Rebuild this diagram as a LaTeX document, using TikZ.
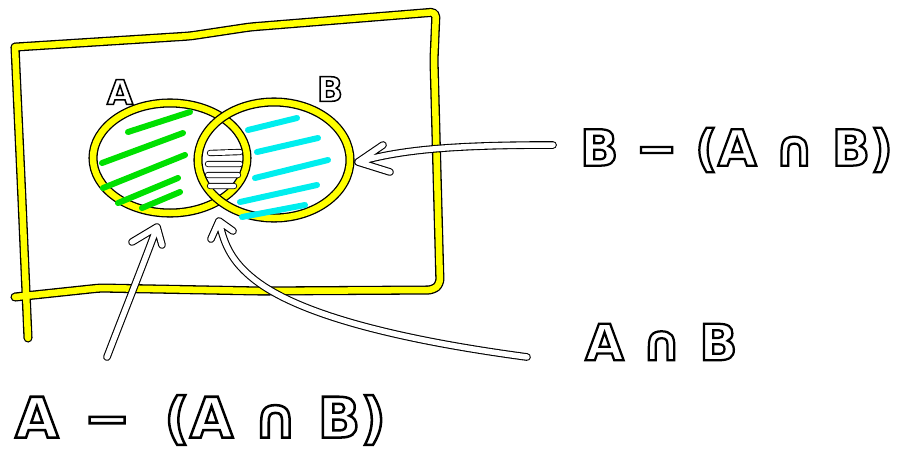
\documentclass[tikz,border=0pt]{standalone}
\usepackage{fontspec}
\setmainfont{DejaVu Sans}
\newfontfamily\rimfont[FakeBold=4.5]{DejaVu Sans Bold}
\usetikzlibrary{shapes.geometric}
\definecolor{cSet}{HTML}{FFFF00}
\definecolor{cOnlyA}{HTML}{00E000}
\definecolor{cOnlyB}{HTML}{00EEEE}

% white letters with a thin black rim (filled white, stroked black)
\newcommand{\rimtext}[1]{{\rimfont\color{white}\special{pdf:code 0 G}#1}}

\begin{document}
\begin{tikzpicture}[
    x=1pt, y=-1pt,
    ystroke/.style={draw=black, line width=1.3pt, double=cSet, double distance=6.5pt, line cap=round, line join=round},
    venn/.style={ellipse, ystroke, inner sep=0pt},
    wline/.style={draw=black, line width=1.1pt, double=white, double distance=5.5pt, line cap=round, line join=round},
    ahatch/.style={cOnlyA, line width=6pt, line cap=round},
    bhatch/.style={cOnlyB, line width=6pt, line cap=round},
    big/.style={font=\fontsize{50}{60}\selectfont, inner sep=0pt},
    small/.style={font=\fontsize{34}{40}\selectfont, inner sep=0pt}
]
\useasboundingbox (0,0) rectangle (905,456);

% universe
\draw[ystroke, rounded corners=5pt] (16,47) -- (190,36) -- (250,27) -- (436,12) -- (434,60) -- (440,284) -- (433,290)
  -- (260,291) -- (100,288) -- (15,297)
  (15,47) -- (22,200) -- (28,338);

% the two sets
\node[venn, minimum width=154pt, minimum height=110pt] (setA) at (170,158) {};
\node[venn, minimum width=152pt, minimum height=116pt] (setB) at (274,160) {};
\node[small] (nameA) at (120,92) {\rimtext{A}};
\node[small] (nameB) at (330,89) {\rimtext{B}};

% A only
\draw[ahatch] (128,132) -- (190,112);
\draw[ahatch] (102,163) -- (183,133);
\draw[ahatch] (103,188) -- (185,155);
\draw[ahatch] (118,203) -- (178,178);
\draw[ahatch] (142,208) -- (180,192);

% B only
\draw[bhatch] (248,130) -- (297,118);
\draw[bhatch] (257,152) -- (318,138);
\draw[bhatch] (255,178) -- (328,160);
\draw[bhatch] (240,202) -- (317,185);
\draw[bhatch] (242,217) -- (305,205);

% intersection
\draw[wline, line width=0.9pt, double distance=4.5pt] (210,153) -- (240,152) (208,164) -- (240,164)
  (208,175) -- (238,175) (210,186) -- (234,186);

% labels
\node[big, anchor=west] (lblOnlyB) at (580,150) {\rimtext{B − (A ∩ B)}};
\node[big, anchor=west] (lblBoth) at (585,342) {\rimtext{A ∩ B}};
\node[big, anchor=west, font=\fontsize{56}{66}\selectfont] (lblOnlyA) at (15,420)
  {\rimtext{A\hspace{0.45em}−\hspace{0.6em}(A ∩ B)}};

% pointers
\coordinate (tipOnlyB) at (358,162);
\coordinate (tailOnlyB) at (553,145);
\coordinate (tipOnlyA) at (157,227);
\coordinate (tailOnlyA) at (107,357);
\coordinate (tipBoth) at (219,221);
\coordinate (tailBoth) at (527,357);

\draw[wline] (tailOnlyB) .. controls (450,145) and (400,150) .. (tipOnlyB)
  (383,145) -- (tipOnlyB) -- (390,172);
\draw[wline] (tailOnlyA) .. controls (125,310) and (145,260) .. (tipOnlyA)
  (132,242) -- (tipOnlyA) -- (162,245);
\draw[wline] (tailBoth) .. controls (400,340) and (300,315) .. (255,280)
  .. controls (232,262) and (224,245) .. (tipBoth)
  (211,239) -- (tipBoth) -- (233,231);
\end{tikzpicture}
\end{document}
